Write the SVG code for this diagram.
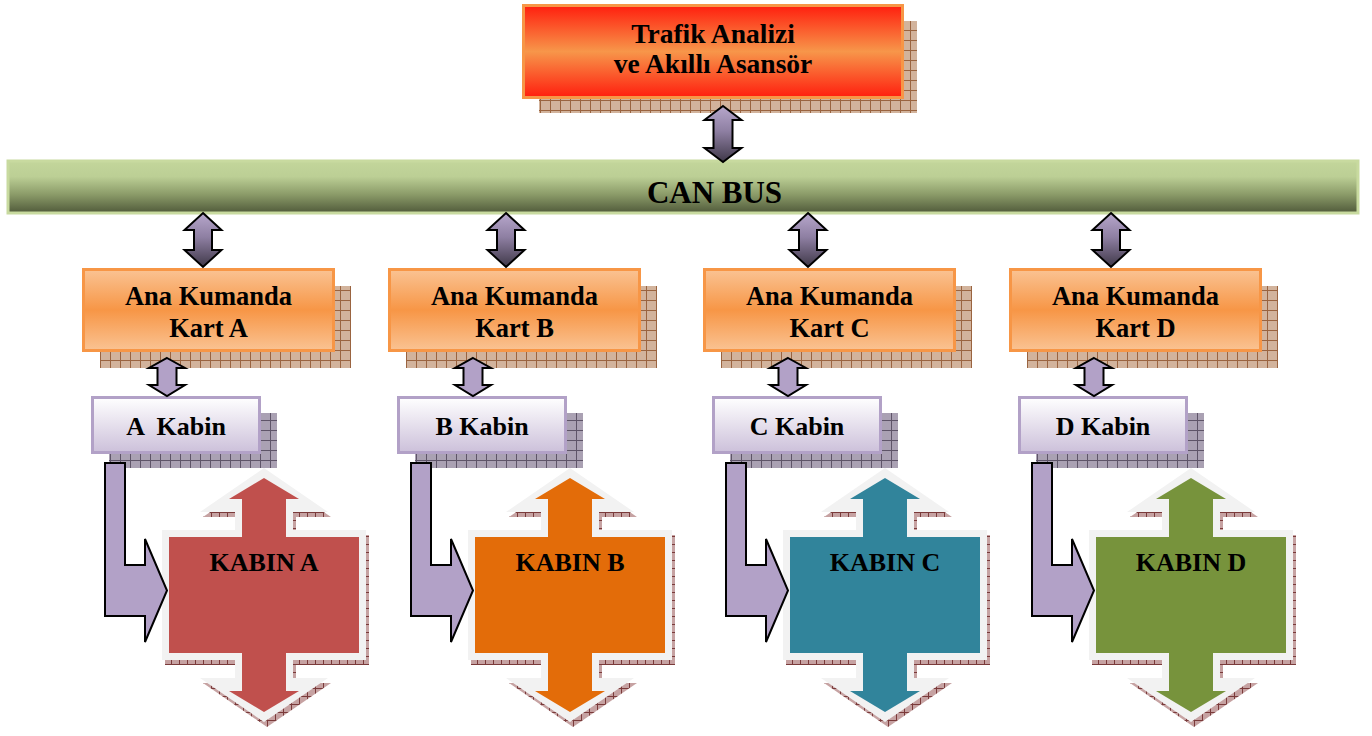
<svg xmlns="http://www.w3.org/2000/svg" width="1372" height="736" viewBox="0 0 1372 736">
<style>
.t{font-family:"Liberation Serif","Times New Roman",serif;font-weight:bold;fill:#000;text-anchor:middle;white-space:pre}
.ana{fill:url(#gAna);stroke:#f79646;stroke-width:3}
.kab{fill:url(#gKab);stroke:#b2a1c7;stroke-width:3}
.sb{fill:url(#pBrown)}
.sp{fill:url(#pPurple)}
.sr{fill:url(#pRed)}
.outer{fill:#f2f2f2}
.dbl{fill:url(#gArrow);stroke:#000;stroke-width:2;stroke-linejoin:miter}
.sm{fill:#b2a1c7;stroke:#000;stroke-width:2}
.bent{fill:#b2a1c7;stroke:#000;stroke-width:2}
</style>
<defs>
<linearGradient id="gTop" x1="0" y1="0" x2="0" y2="1">
<stop offset="0" stop-color="#ff1e0e"/><stop offset="0.5" stop-color="#f7964a"/><stop offset="1" stop-color="#ff1e0e"/>
</linearGradient>
<linearGradient id="gAna" x1="0" y1="0" x2="0" y2="1">
<stop offset="0" stop-color="#fac393"/><stop offset="0.5" stop-color="#f79646"/><stop offset="1" stop-color="#fac393"/>
</linearGradient>
<linearGradient id="gKab" x1="0" y1="0" x2="0" y2="1">
<stop offset="0" stop-color="#ffffff"/><stop offset="1" stop-color="#ccc0da"/>
</linearGradient>
<linearGradient id="gCan" x1="0" y1="0" x2="0" y2="1">
<stop offset="0" stop-color="#c3d69b"/><stop offset="0.3" stop-color="#bccf95"/><stop offset="0.65" stop-color="#8a9a68"/><stop offset="1" stop-color="#505a3a"/>
</linearGradient>
<linearGradient id="gArrow" x1="0" y1="0" x2="0" y2="1">
<stop offset="0" stop-color="#b7a7cc"/><stop offset="0.45" stop-color="#8e7fa2"/><stop offset="1" stop-color="#3f3848"/>
</linearGradient>
<pattern id="pBrown" width="10" height="10" patternUnits="userSpaceOnUse">
<rect width="10" height="10" fill="#d2b39c"/><path d="M0,0.5H10M0.5,0V10" stroke="#9a6440" stroke-width="1"/>
</pattern>
<pattern id="pPurple" width="10" height="10" patternUnits="userSpaceOnUse">
<rect width="10" height="10" fill="#aaa1b3"/><path d="M0,0.5H10M0.5,0V10" stroke="#5e5468" stroke-width="1"/>
</pattern>
<pattern id="pRed" width="8" height="8" patternUnits="userSpaceOnUse">
<rect width="8" height="8" fill="#c6a2a2"/><path d="M0,0.5H8M0.5,0V8" stroke="#7a3a3a" stroke-width="1"/>
</pattern>
<path id="shpOuter" d="M0,-127 L64,-83 L29,-83 L29,-65 L102,-65 L102,65 L29,65 L29,83 L64,83 L0,127 L-64,83 L-29,83 L-29,65 L-102,65 L-102,-65 L-29,-65 L-29,-83 L-64,-83 Z"/>
<path id="shpInner" d="M0,-117 L35,-96 L22,-96 L22,-58 L95,-58 L95,58 L22,58 L22,96 L35,96 L0,117 L-35,96 L-22,96 L-22,58 L-95,58 L-95,-58 L-22,-58 L-22,-96 L-35,-96 Z"/>
<path id="dblBig" d="M0,0 L18.5,17 L9,17 L9,37 L18.5,37 L0,54 L-18.5,37 L-9,37 L-9,17 L-18.5,17 Z"/>
<path id="dblSmall" d="M0,0 L18,10 L9.5,10 L9.5,27 L18,27 L0,38 L-18,27 L-9.5,27 L-9.5,10 L-18,10 Z"/>
<path id="bentA" d="M105,463 L125,463 L125,565 L145,565 L145,539 L167,590.5 L145,642 L145,616 L105,616 Z"/>
</defs>

<g id="top-node">
<rect class="sb" x="539" y="21" width="378" height="92"/>
<rect x="523.5" y="5.5" width="379" height="92" fill="url(#gTop)" stroke="#f79646" stroke-width="3"/>
<text class="t" x="713" y="43" font-size="27.5">Trafik Analizi</text>
<text class="t" x="713" y="73" font-size="27.5">ve Akıllı Asansör</text>
</g>

<g id="can-bus">
<rect x="8" y="161" width="1350" height="52" fill="url(#gCan)" stroke="#c8da9f" stroke-width="3"/>
<text class="t" x="714.5" y="203" font-size="31">CAN BUS</text>
</g>

<g id="kart-A">
<rect class="sb" x="100" y="286" width="251" height="82"/>
<rect class="ana" x="83.5" y="269.5" width="250" height="81"/>
<text class="t" x="208.5" y="305" font-size="26.5">Ana Kumanda</text>
<text class="t" x="208.5" y="337" font-size="26.5">Kart A</text>
</g>
<g id="kart-B" transform="translate(306,0)">
<rect class="sb" x="100" y="286" width="251" height="82"/>
<rect class="ana" x="83.5" y="269.5" width="250" height="81"/>
<text class="t" x="208.5" y="305" font-size="26.5">Ana Kumanda</text>
<text class="t" x="208.5" y="337" font-size="26.5">Kart B</text>
</g>
<g id="kart-C" transform="translate(621,0)">
<rect class="sb" x="100" y="286" width="251" height="82"/>
<rect class="ana" x="83.5" y="269.5" width="250" height="81"/>
<text class="t" x="208.5" y="305" font-size="26.5">Ana Kumanda</text>
<text class="t" x="208.5" y="337" font-size="26.5">Kart C</text>
</g>
<g id="kart-D" transform="translate(927,0)">
<rect class="sb" x="100" y="286" width="251" height="82"/>
<rect class="ana" x="83.5" y="269.5" width="250" height="81"/>
<text class="t" x="208.5" y="305" font-size="26.5">Ana Kumanda</text>
<text class="t" x="208.5" y="337" font-size="26.5">Kart D</text>
</g>

<g id="kabin-label-A">
<rect class="sp" x="109" y="413" width="168" height="55"/>
<rect class="kab" x="92.5" y="397.5" width="167" height="55"/>
<text class="t" x="176" y="435" font-size="26">A  Kabin</text>
</g>
<g id="kabin-label-B" transform="translate(306,0)">
<rect class="sp" x="109" y="413" width="168" height="55"/>
<rect class="kab" x="92.5" y="397.5" width="167" height="55"/>
<text class="t" x="176" y="435" font-size="26">B Kabin</text>
</g>
<g id="kabin-label-C" transform="translate(621,0)">
<rect class="sp" x="109" y="413" width="168" height="55"/>
<rect class="kab" x="92.5" y="397.5" width="167" height="55"/>
<text class="t" x="176" y="435" font-size="26">C Kabin</text>
</g>
<g id="kabin-label-D" transform="translate(927,0)">
<rect class="sp" x="109" y="413" width="168" height="55"/>
<rect class="kab" x="92.5" y="397.5" width="167" height="55"/>
<text class="t" x="176" y="435" font-size="26">D Kabin</text>
</g>

<g id="kabin-A" transform="translate(264,595)">
<use href="#shpOuter" class="sr" x="3" y="5"/>
<use href="#shpOuter" class="outer"/>
<use href="#shpInner" fill="#c0504d"/>
<text class="t" x="0" y="-24" font-size="26">KABIN A</text>
</g>
<g id="kabin-B" transform="translate(570,595)">
<use href="#shpOuter" class="sr" x="3" y="5"/>
<use href="#shpOuter" class="outer"/>
<use href="#shpInner" fill="#e36c09"/>
<text class="t" x="0" y="-24" font-size="26">KABIN B</text>
</g>
<g id="kabin-C" transform="translate(885,595)">
<use href="#shpOuter" class="sr" x="3" y="5"/>
<use href="#shpOuter" class="outer"/>
<use href="#shpInner" fill="#31849b"/>
<text class="t" x="0" y="-24" font-size="26">KABIN C</text>
</g>
<g id="kabin-D" transform="translate(1191,595)">
<use href="#shpOuter" class="sr" x="3" y="5"/>
<use href="#shpOuter" class="outer"/>
<use href="#shpInner" fill="#77933c"/>
<text class="t" x="0" y="-24" font-size="26">KABIN D</text>
</g>

<g id="connectors">
<path class="dbl" transform="translate(723,106)" d="M0,0 L18.5,14 L9.5,14 L9.5,42 L18.5,42 L0,56 L-18.5,42 L-9.5,42 L-9.5,14 L-18.5,14 Z"/>
<use href="#dblBig" class="dbl" transform="translate(203,213)"/>
<use href="#dblBig" class="dbl" transform="translate(506,213)"/>
<use href="#dblBig" class="dbl" transform="translate(808,213)"/>
<use href="#dblBig" class="dbl" transform="translate(1111,213)"/>
<use href="#dblSmall" class="sm" transform="translate(167,358)"/>
<use href="#dblSmall" class="sm" transform="translate(473,358)"/>
<use href="#dblSmall" class="sm" transform="translate(788,358)"/>
<use href="#dblSmall" class="sm" transform="translate(1094,358)"/>
<use href="#bentA" class="bent"/>
<use href="#bentA" class="bent" transform="translate(306,0)"/>
<use href="#bentA" class="bent" transform="translate(621,0)"/>
<use href="#bentA" class="bent" transform="translate(927,0)"/>
</g>
</svg>
